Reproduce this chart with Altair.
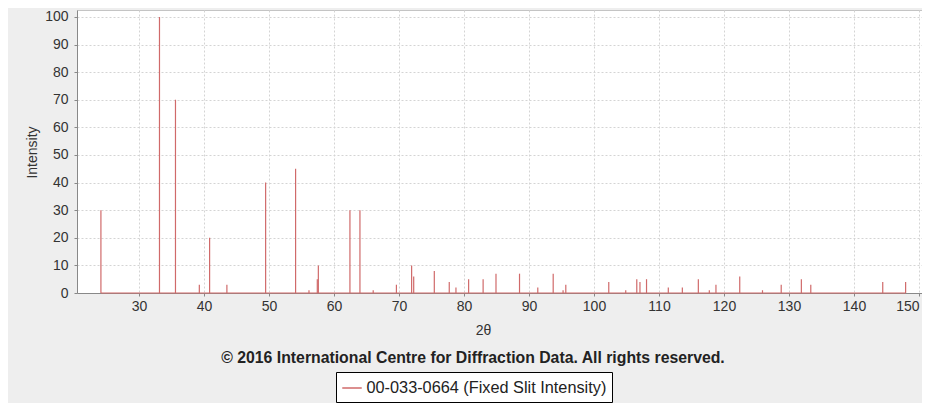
import altair as alt
import pandas as pd

# Peak positions (2θ) and relative intensities
two_theta = [24.14, 33.15, 35.61, 39.28, 40.86, 43.52, 49.48, 54.09, 56.15, 57.43,
             57.59, 62.45, 63.99, 66.03, 69.60, 71.94, 72.26, 75.43, 77.73, 78.76,
             80.71, 82.94, 84.92, 88.54, 91.35, 93.72, 95.24, 95.66, 102.27, 104.88,
             106.58, 107.07, 108.08, 111.43, 113.59, 116.05, 117.74, 118.76, 122.42, 125.92,
             128.80, 131.90, 133.35, 144.42, 147.94]
intensity = [30, 100, 70, 3, 20, 3, 40, 45, 1, 5,
             10, 30, 30, 1, 3, 10, 6, 8, 4, 2,
             5, 5, 7, 7, 2, 7, 1, 3, 4, 1,
             5, 4, 5, 2, 2, 5, 1, 3, 6, 1,
             3, 5, 3, 4, 4]
series_name = "00-033-0664 (Fixed Slit Intensity)"
x_ticks = list(range(30, 151, 10))
y_ticks = list(range(0, 101, 10))
copyright_text = "\u00a9 2016 International Centre for Diffraction Data. All rights reserved."

df = pd.DataFrame({"two_theta": two_theta, "intensity": intensity, "series": series_name})
notes = pd.DataFrame({"note": [copyright_text]})

FONT = "Liberation Sans"
RED = "#d06a6a"

color = alt.Color(
    "series:N",
    scale=alt.Scale(domain=[series_name], range=[RED]),
    legend=alt.Legend(
        title=None, orient="none", legendX=259, legendY=362,
        padding=5.5, strokeColor="#000000", fillColor="#ffffff", cornerRadius=0,
        symbolType="stroke", symbolStrokeWidth=1.5, symbolSize=380,
        labelFont=FONT, labelFontSize=16.3, labelColor="#222222", labelLimit=0,
    ),
)

xscale = alt.Scale(domain=[20.46, 150.46], nice=False, zero=False)
yscale = alt.Scale(domain=[0, 102.5], nice=False)

x_axis = alt.Axis(values=x_ticks, title="2\u03b8", titleX=406, titleY=37,
                  titleBaseline="middle", titleFontWeight="normal",
                  labelPadding=3, labelOverlap=False, labelFlush=6)
y_axis = alt.Axis(values=y_ticks, title="Intensity", titleX=-45, titleY=142,
                  titleBaseline="middle", titleFontWeight="normal",
                  labelPadding=6, labelOverlap=False)

base = alt.Chart(df)

peaks = base.mark_rule(strokeWidth=1.2).encode(
    x=alt.X("two_theta:Q", scale=xscale, axis=x_axis),
    y=alt.Y("intensity:Q", scale=yscale, axis=y_axis),
    y2=alt.datum(0),
    color=color,
)

baseline = base.mark_rule(strokeWidth=1.2).encode(
    x=alt.X("min(two_theta):Q", scale=xscale, axis=x_axis),
    x2="max(two_theta):Q",
    y=alt.Y(datum=0, scale=yscale, axis=y_axis),
    color=color,
)

note = alt.Chart(notes).mark_text(
    font=FONT, fontSize=15.8, fontWeight="bold", color="#222222",
    align="center", baseline="middle",
).encode(text="note:N", x=alt.value(396), y=alt.value(348))

chart = (
    alt.layer(peaks, baseline, note)
    .properties(
        width=845, height=283,
        autosize=alt.AutoSizeParams(type="none"),
        padding={"left": 69, "top": 2, "right": 0, "bottom": 110},
    )
    .configure(background="#eeeeee")
    .configure_view(fill="#ffffff", stroke="#c4c4c4", strokeWidth=1)
    .configure_axis(
        domainColor="#888888", tickColor="#888888", tickSize=3,
        grid=True, gridColor="#d4d4d4", gridDash=[2, 2], gridWidth=1,
        labelFont=FONT, labelFontSize=14, labelColor="#333333",
        titleFont=FONT, titleFontSize=14, titleColor="#333333",
    )
)

chart.save("out.html", embed_options={"renderer": "svg", "actions": False})
